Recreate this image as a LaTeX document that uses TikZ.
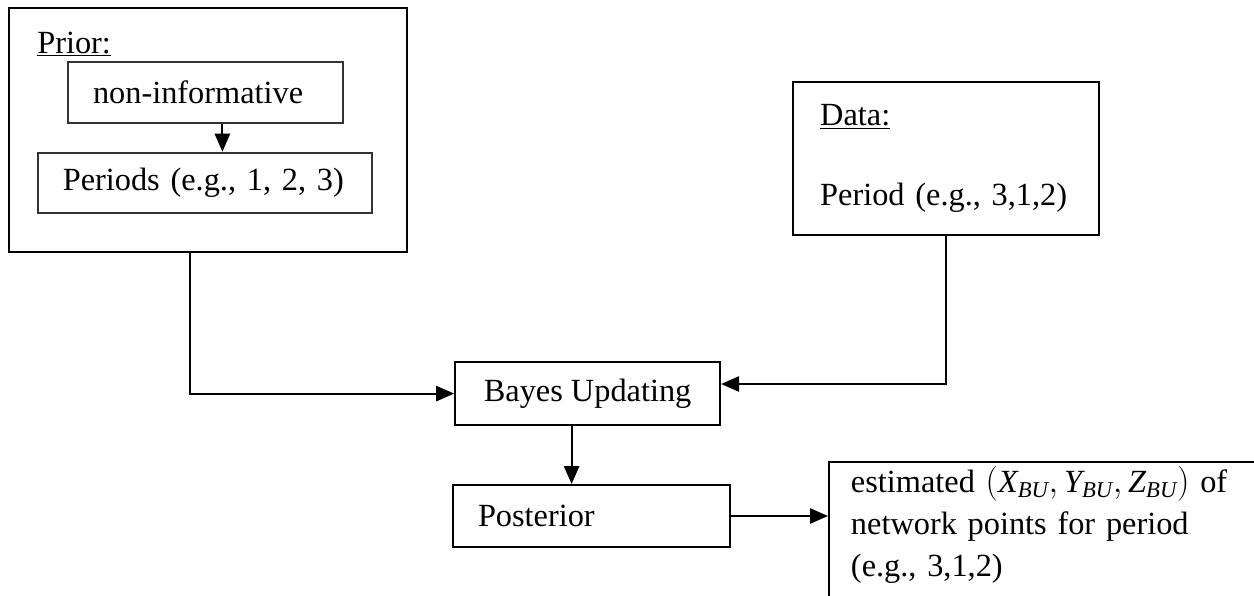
\documentclass[tikz,border=0pt]{standalone}
\usepackage{fontspec}
\setmainfont{Liberation Serif}
\usepackage{tikz}
\usetikzlibrary{positioning}
\usetikzlibrary{arrows.meta}
\frenchspacing

\begin{document}
\begin{tikzpicture}[font=\fontsize{23}{27}\selectfont,
  box/.style={draw, rectangle, line width=1.4pt, inner sep=0pt},
  lbox/.style={box, align=left, inner xsep=0.62cm},
  arr/.style={line width=1.4pt, -{Triangle[length=0.45cm, width=0.38cm]}}]
  \useasboundingbox (0,0) rectangle (31.35,-14.9);
  % prior side
  \node[box, minimum width=9.95cm, minimum height=6.1cm] (prior) at (5.2,-3.25) {};
  \node[anchor=base west, inner sep=0pt] (priorlbl) at (0.925,-1.33) {\underline{Prior:}};
  \node[lbox, draw=black!80, line width=1.8pt, text width=5.63cm, minimum height=1.525cm] (noninf) at (5.14,-2.31) {non-informative};
  \node[lbox, draw=black!80, line width=1.8pt, text width=7.11cm, minimum height=1.5cm] (periods) at (5.125,-4.575) {Periods (e.g., 1, 2, 3)};
  % data side
  \node[lbox, inner xsep=0.68cm, text width=6.29cm, minimum height=3.825cm] (data) at (23.65,-3.96) {\underline{Data:}\\[1.05cm]Period (e.g., 3,1,2)};
  % updating
  \node[box, minimum width=6.625cm, minimum height=1.575cm] (bayes) at (14.69,-9.84) {Bayes Updating};
  \node[lbox, text width=5.68cm, minimum height=1.55cm] (post) at (14.79,-12.9) {Posterior};
  \node[lbox, anchor=north west, inner xsep=0.55cm, inner ysep=0.1cm, text width=12cm, text depth=3cm,
    font=\fontsize{23}{30}\selectfont] (est) at (20.7,-11.525)
    {estimated $(\mathit{X}_{\mathit{BU}}, \mathit{Y}_{\mathit{BU}}, \mathit{Z}_{\mathit{BU}})$ of\\network points for period\\(e.g., 3,1,2)};
  % connectors
  \draw[arr] ([xshift=0.42cm]noninf.south) -- ([xshift=0.42cm]noninf.south |- periods.north);
  \draw[arr] ([xshift=-0.45cm]prior.south) |- (bayes.west);
  \draw[arr] (data.south) |- ([yshift=0.24cm]bayes.east);
  \draw[arr] ([xshift=-0.4cm]bayes.south) -- ([xshift=-0.4cm]bayes.south |- post.north);
  \draw[arr] (post.east) -- (est.west |- post.east);
\end{tikzpicture}
\end{document}
